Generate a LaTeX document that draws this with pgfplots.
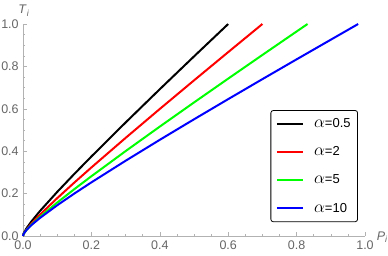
\documentclass[border=0pt]{standalone}
\usepackage{fontspec}
\setmainfont{Liberation Sans}
\usepackage{pgfplots}
\pgfplotsset{compat=1.18}
\definecolor{axgray}{gray}{0.7}
\definecolor{lblgray}{gray}{0.4}
\definecolor{pgreen}{rgb}{0,1,0}
\newcommand{\al}{{\fontsize{16}{15}\selectfont$\alpha$}}
\begin{document}
\fontsize{11}{13}\selectfont
\begin{tikzpicture}
\begin{axis}[
  at={(0,0)}, anchor=south west,
  scale only axis, width=342pt, height=212pt,
  xmin=0, xmax=1, ymin=0, ymax=1,
  axis lines*=left,
  axis line style={axgray, line width=0.6pt},
  clip=false,
  xtick={0,0.2,...,1.0}, ytick={0,0.2,...,1.0},
  minor tick num=3,
  tick align=inside,
  major tick length=4pt, minor tick length=2.5pt,
  tick style={axgray, line width=0.5pt},
  ticklabel style={font=\fontsize{12.5}{14}\selectfont, text=lblgray},
  /pgf/number format/assume math mode=true,
  /pgf/number format/.cd, fixed, fixed zerofill, precision=1, /pgfplots/.cd,
  xticklabel style={yshift=-0.5pt},
  yticklabel style={xshift=-0.5pt},
  xlabel={\textit{P}\textsubscript{\textit{i}}},
  ylabel={\textit{T}\textsubscript{\textit{i}}},
  xlabel style={at={(axis description cs:1,0)}, anchor=west, xshift=8pt, yshift=-1pt, text=lblgray, font=\fontsize{12.5}{13}\selectfont},
  ylabel style={at={(axis description cs:0,1)}, anchor=south, rotate=-90, yshift=4pt, xshift=1pt, text=lblgray, font=\fontsize{12.5}{13}\selectfont},
  legend style={at={(axis description cs:0.9795,0.594)}, anchor=north east,
    draw=black, rounded corners=2.5pt, line width=0.8pt,
    font=\fontsize{13}{14}\selectfont,
    inner xsep=5pt, inner ysep=6pt, row sep=13.5pt, column sep=8pt},
  legend cell align=left,
  legend image code/.code={\draw[#1, line width=2.2pt, line cap=butt, sharp corners] (0pt,0pt) -- (26pt,0pt);},
  every axis plot/.append style={line width=2pt},
]
\addplot[black] coordinates {
(0,0) (0.002,0.0126) (0.01,0.0358) (0.025,0.0694) (0.05,0.1184) (0.1,0.2079)
(0.15,0.2927) (0.2,0.375) (0.3,0.5354) (0.4,0.6924) (0.5,0.8471) (0.6,1.0)};
\addlegendentry{\al=0.5}
\addplot[red] coordinates {
(0,0) (0.002,0.0105) (0.01,0.0302) (0.025,0.0589) (0.05,0.1011) (0.1,0.1784)
(0.15,0.2519) (0.2,0.3233) (0.3,0.4627) (0.4,0.5993) (0.5,0.734) (0.6,0.8674) (0.7,1.0)};
\addlegendentry{\al=2}
\addplot[pgreen] coordinates {
(0,0) (0.002,0.0101) (0.01,0.0282) (0.025,0.0539) (0.05,0.0908) (0.1,0.1577)
(0.15,0.2209) (0.2,0.2819) (0.3,0.4004) (0.4,0.5161) (0.5,0.6299) (0.6,0.7424)
(0.7,0.854) (0.8,0.9647) (0.832,1.0)};
\addlegendentry{\al=5}
\addplot[blue] coordinates {
(0,0) (0.002,0.0106) (0.01,0.0282) (0.025,0.0521) (0.05,0.0856) (0.1,0.145)
(0.15,0.2002) (0.2,0.253) (0.3,0.3549) (0.4,0.4537) (0.5,0.5504) (0.6,0.6457)
(0.7,0.7399) (0.8,0.8333) (0.9,0.9259) (0.98,1.0)};
\addlegendentry{\al=10}
\end{axis}
\pgfresetboundingbox
\path[use as bounding box] (-23pt,-19pt) rectangle (365pt,236pt);
\end{tikzpicture}
\end{document}
